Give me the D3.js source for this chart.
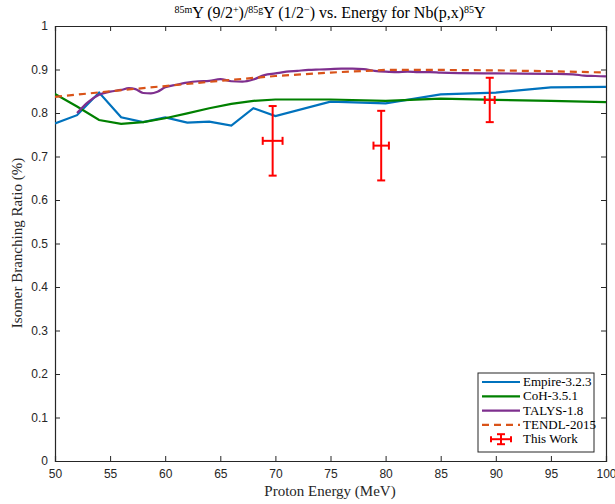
<!DOCTYPE html>
<html><head><meta charset="utf-8">
<script src="https://cdn.jsdelivr.net/npm/d3@7"></script>
<style>body{margin:0;background:#fff}</style>
</head><body>
<svg id="c" width="615" height="504"></svg>
<script>
const empireE = [50,52,54,56,58,60,62,64,66,68,70,75,80,85,90,95,100];
const empireV = [0.776,0.795,0.847,0.790,0.779,0.790,0.778,0.780,0.771,0.811,0.793,0.826,0.822,0.843,0.847,0.859,0.860];
const cohE = [50,52,54,56,58,60,62,64,66,68,70,75,80,85,90,95,100];
const cohV = [0.844,0.815,0.784,0.775,0.779,0.788,0.799,0.811,0.821,0.828,0.831,0.831,0.828,0.833,0.830,0.828,0.825];
const talysE = [52,53,54,55,56,56.7,57.3,58,58.7,59.3,60,61,62,63,64,65,66,67,68,69,70,71,72,73,74,75,76,77,78,79,80,81,82,83,84,85,90,95,97,98,99,100];
const talysV = [0.800,0.825,0.842,0.849,0.853,0.857,0.855,0.846,0.845,0.849,0.859,0.865,0.870,0.873,0.874,0.878,0.873,0.872,0.877,0.887,0.891,0.895,0.897,0.899,0.900,0.901,0.902,0.902,0.901,0.897,0.895,0.894,0.895,0.894,0.894,0.893,0.891,0.890,0.889,0.886,0.885,0.884];
const tendlE = [50,55,60,65,70,75,80,85,90,95,100];
const tendlV = [0.837,0.850,0.862,0.874,0.885,0.893,0.899,0.899,0.898,0.896,0.893];
const workE = [69.75,79.6,89.45];
const workV = [0.736,0.725,0.830];
const workErrV = [0.080,0.080,0.051];
const workErrE = [0.9,0.7,0.45];
const xTicks = [50,55,60,65,70,75,80,85,90,95,100];
const yTicks = [0,0.1,0.2,0.3,0.4,0.5,0.6,0.7,0.8,0.9,1];
const seriesNames = ["Empire-3.2.3","CoH-3.5.1","TALYS-1.8","TENDL-2015","This Work"];

const svg = d3.select("#c");
const L=55,R=606,T=26,B=461;
const x = d3.scaleLinear().domain([50,100]).range([L,R]);
const y = d3.scaleLinear().domain([0,1]).range([B,T]);
const axisCol = "#262626";
const tickFont = "'Liberation Sans', Arial, sans-serif";
const serif = "'Liberation Serif', 'Times New Roman', serif";

const gx = svg.append("g").attr("transform",`translate(0,${B})`)
  .call(d3.axisBottom(x).tickValues(xTicks).tickSize(-5).tickPadding(8).tickFormat(d3.format("d")));
const gxt = svg.append("g").attr("transform",`translate(0,${T})`)
  .call(d3.axisTop(x).tickValues(xTicks).tickSize(-5).tickFormat(""));
const gy = svg.append("g").attr("transform",`translate(${L},0)`)
  .call(d3.axisLeft(y).tickValues(yTicks).tickSize(-5).tickPadding(7).tickFormat(d=>d3.format("")(+d.toFixed(1))));
const gyr = svg.append("g").attr("transform",`translate(${R},0)`)
  .call(d3.axisRight(y).tickValues(yTicks).tickSize(-5).tickFormat(""));
[gx,gxt,gy,gyr].forEach(g=>{
  g.select(".domain").attr("stroke",axisCol).attr("stroke-width",1.2);
  g.selectAll(".tick line").attr("stroke",axisCol).attr("stroke-width",1);
  g.selectAll(".tick text").attr("fill",axisCol).style("font-family",tickFont).style("font-size","12px");
});

const line = d3.line().x(d=>x(d[0])).y(d=>y(d[1]));
const plot = svg.append("g");
svg.append("clipPath").attr("id","cp").append("rect").attr("x",L).attr("y",T).attr("width",R-L).attr("height",B-T);
plot.attr("clip-path","url(#cp)");
function zip(a,b){return a.map((v,i)=>[v,b[i]]);}
plot.append("path").datum(zip(empireE,empireV)).attr("d",line).attr("fill","none").attr("stroke","#0072BD").attr("stroke-width",2.2);
plot.append("path").datum(zip(cohE,cohV)).attr("d",line).attr("fill","none").attr("stroke","#008000").attr("stroke-width",2.2);
plot.append("path").datum(zip(talysE,talysV)).attr("d",d3.line().curve(d3.curveMonotoneX).x(d=>x(d[0])).y(d=>y(d[1]))).attr("fill","none").attr("stroke","#7E2F8E").attr("stroke-width",2.2);
plot.append("path").datum(zip(tendlE,tendlV)).attr("d",line).attr("fill","none").attr("stroke","#D95319").attr("stroke-width",2.2).attr("stroke-dasharray","7,5");

const eb = svg.append("g").attr("stroke","#FF0000").attr("stroke-width",2).attr("fill","none");
workE.forEach((e,i)=>{
  const cx=x(e), cy=y(workV[i]);
  const y1=y(workV[i]+workErrV[i]), y2=y(workV[i]-workErrV[i]);
  const x1=x(e-workErrE[i]), x2=x(e+workErrE[i]);
  eb.append("line").attr("x1",cx).attr("x2",cx).attr("y1",y1).attr("y2",y2);
  eb.append("line").attr("x1",cx-4).attr("x2",cx+4).attr("y1",y1).attr("y2",y1);
  eb.append("line").attr("x1",cx-4).attr("x2",cx+4).attr("y1",y2).attr("y2",y2);
  eb.append("line").attr("x1",x1).attr("x2",x2).attr("y1",cy).attr("y2",cy);
  eb.append("line").attr("x1",x1).attr("x2",x1).attr("y1",cy-4).attr("y2",cy+4);
  eb.append("line").attr("x1",x2).attr("x2",x2).attr("y1",cy-4).attr("y2",cy+4);
});

const title = svg.append("text").attr("x",330).attr("y",18).attr("text-anchor","middle")
  .style("font-family",serif).style("font-size","16px").attr("fill","#000");
const sup = (t)=>title.append("tspan").text(t).attr("baseline-shift","super").style("font-size","10px");
sup("85m");
title.append("tspan").text("Y (9/2");
sup("+");
title.append("tspan").text(")/");
sup("85g");
title.append("tspan").text("Y (1/2");
sup("\u2212");
title.append("tspan").text(") vs. Energy for Nb(p,x)");
sup("85");
title.append("tspan").text("Y");

svg.append("text").attr("x",330).attr("y",496).attr("text-anchor","middle")
  .style("font-family",serif).style("font-size","15px").attr("fill",axisCol).text("Proton Energy (MeV)");
svg.append("text").attr("transform","translate(22,243) rotate(-90)").attr("text-anchor","middle")
  .style("font-family",serif).style("font-size","15px").attr("fill",axisCol).text("Isomer Branching Ratio (%)");

const lg = svg.append("g");
lg.append("rect").attr("x",478).attr("y",373).attr("width",116).attr("height",79).attr("fill","#fff").attr("stroke","#262626").attr("stroke-width",1);
const lstyles = [
  {c:"#0072BD",dash:null},{c:"#008000",dash:null},{c:"#7E2F8E",dash:null},{c:"#D95319",dash:"7,5"},{c:"#FF0000",err:true}
];
seriesNames.forEach((n,i)=>{
  const yy = 382 + i*14.3;
  const s = lstyles[i];
  if(!s.err){
    lg.append("line").attr("x1",482).attr("x2",520).attr("y1",yy).attr("y2",yy).attr("stroke",s.c).attr("stroke-width",2.2).attr("stroke-dasharray",s.dash);
  } else {
    const g = lg.append("g").attr("stroke",s.c).attr("stroke-width",2);
    g.append("line").attr("x1",501).attr("x2",501).attr("y1",yy-5).attr("y2",yy+5);
    g.append("line").attr("x1",497).attr("x2",505).attr("y1",yy-5).attr("y2",yy-5);
    g.append("line").attr("x1",497).attr("x2",505).attr("y1",yy+5).attr("y2",yy+5);
    g.append("line").attr("x1",491).attr("x2",511).attr("y1",yy).attr("y2",yy);
    g.append("line").attr("x1",491).attr("x2",491).attr("y1",yy-3).attr("y2",yy+3);
    g.append("line").attr("x1",511).attr("x2",511).attr("y1",yy-3).attr("y2",yy+3);
  }
  lg.append("text").attr("x",523).attr("y",yy+4).style("font-family",serif).style("font-size","13px").attr("fill","#000").text(n);
});
</script>
</body></html>
